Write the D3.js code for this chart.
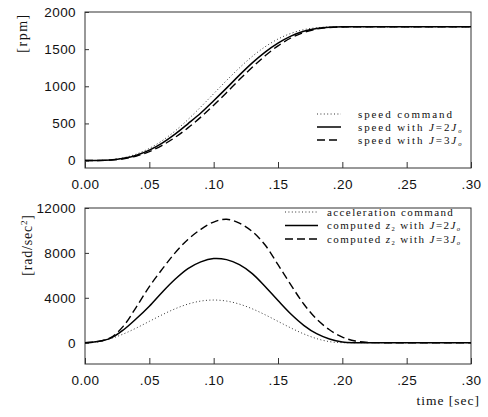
<!DOCTYPE html>
<html>
<head>
<meta charset="utf-8">
<script src="https://cdn.jsdelivr.net/npm/d3@7"></script>
<style>
    body { margin: 0; background: #fff; }
    svg { display: block; }
    .tick text { font-family: "Liberation Sans", Arial, sans-serif; font-size: 13.5px; fill: #111; letter-spacing: 0.4px; }
    .serif { font-family: "Liberation Serif", "Times New Roman", serif; fill: #111; }
</style>
</head>
<body>
<svg id="chart" width="488" height="417"></svg>
<script>
// time axis (sec)
const time = [0, .01, .02, .03, .04, .05, .06, .07, .08, .09, .10, .11, .12, .13, .14, .15,
    .16, .17, .18, .19, .20, .21, .22, .23, .24, .25, .26, .27, .28, .29, .30];

// speed [rpm]
const speedCommand = [0, 2, 12, 38, 88, 164, 268, 398, 552, 722, 900, 1078, 1248, 1402, 1532, 1636,
    1712, 1762, 1788, 1798, 1800, 1800, 1800, 1800, 1800, 1800, 1800, 1800, 1800, 1800, 1800];
const speedJ2 = [0, 1, 8, 30, 72, 140, 235, 355, 495, 640, 805, 975, 1150, 1315, 1460, 1580,
    1675, 1740, 1778, 1795, 1800, 1800, 1800, 1800, 1800, 1800, 1800, 1800, 1800, 1800, 1800];
const speedJ3 = [0, 1, 7, 25, 62, 120, 205, 312, 440, 585, 745, 915, 1090, 1255, 1410, 1545,
    1650, 1725, 1770, 1792, 1799, 1800, 1800, 1800, 1800, 1800, 1800, 1800, 1800, 1800, 1800];

// acceleration [rad/sec^2]
const accelCommand = [0, 93, 363, 783, 1313, 1900, 2487, 3017, 3437, 3707, 3800, 3707, 3437, 3017, 2487, 1900,
    1313, 783, 363, 93, 0, 0, 0, 0, 0, 0, 0, 0, 0, 0, 0];
const accelJ2 = [0, 100, 400, 1150, 2150, 3250, 4500, 5650, 6600, 7200, 7500, 7400, 6950, 6150, 5000, 3750,
    2550, 1550, 800, 330, 70, 0, 0, 0, 0, 0, 0, 0, 0, 0, 0];
const accelJ3 = [0, 100, 450, 1500, 3200, 5000, 6550, 8000, 9200, 10100, 10750, 11000, 10650, 9900, 8700, 6950,
    5150, 3450, 2100, 1150, 500, 150, 20, 0, 0, 0, 0, 0, 0, 0, 0];

const xTicks = [0, .05, .10, .15, .20, .25, .30];
const speedTicks = [0, 500, 1000, 1500, 2000];
const accelTicks = [0, 4000, 8000, 12000];

const svg = d3.select("#chart");

const styles = {
    dotted: {width: 1, dash: "1,2.4", color: "#333"},
    solid: {width: 1.5, dash: null, color: "#000"},
    dashed: {width: 1.4, dash: "8,4", color: "#000"}
};

const x = d3.scaleLinear().domain([0, 0.30]).range([85, 471]);

function fmtTime(d) {
    return d === 0 ? "0.00" : d3.format(".2f")(d).replace("0.", ".");
}

/** Draw one panel
 *
 * @param y vertical scale
 * @param ticks y tick values
 * @param series list of [values, style]
 * @param curve line interpolation
 */
function drawPanel(y, ticks, series, curve) {
    const top = y.range()[1], bottom = y.range()[0];
    const g = svg.append("g");

    g.append("g")
        .attr("transform", "translate(0," + bottom + ")")
        .call(d3.axisBottom(x).tickValues(xTicks).tickFormat(fmtTime).tickSize(-6).tickPadding(11))
        .call(function (a) { a.select(".domain").remove(); });

    g.append("g")
        .attr("transform", "translate(" + x.range()[0] + ",0)")
        .call(d3.axisLeft(y).tickValues(ticks).tickFormat(d3.format("d")).tickSize(-4).tickPadding(9))
        .call(function (a) { a.select(".domain").remove(); });

    g.selectAll(".tick line").attr("stroke", "#333");

    g.append("rect")
        .attr("x", x.range()[0])
        .attr("y", top)
        .attr("width", x.range()[1] - x.range()[0])
        .attr("height", bottom - top)
        .attr("fill", "none")
        .attr("stroke", "#333")
        .attr("stroke-width", 1);

    const line = d3.line()
        .x(function (d, i) { return x(time[i]); })
        .y(function (d) { return y(d); })
        .curve(curve);

    series.forEach(function (s) {
        g.append("path")
            .attr("d", line(s[0]))
            .attr("fill", "none")
            .attr("stroke", s[1].color)
            .attr("stroke-width", s[1].width)
            .attr("stroke-dasharray", s[1].dash);
    });
    return g;
}

/** Legend rows: sample line plus rich text */
function drawLegend(g, x0, x1, tx, rows, size, spacing) {
    rows.forEach(function (r) {
        g.append("line")
            .attr("x1", x0).attr("x2", x1)
            .attr("y1", r.y).attr("y2", r.y)
            .attr("stroke", r.style.color)
            .attr("stroke-width", r.style.width)
            .attr("stroke-dasharray", r.style.dash);
        const t = g.append("text")
            .attr("class", "serif")
            .attr("x", tx)
            .attr("y", r.y + 3.5)
            .style("font-size", size + "px")
            .style("letter-spacing", spacing + "px");
        r.parts.forEach(function (p) {
            const span = t.append("tspan").text(p.t);
            if (p.i) span.style("font-style", "italic");
            if (p.sub) span.attr("dy", 2).style("font-size", (size * 0.6) + "px");
            if (p.up) span.attr("dy", -2);
        });
    });
}

function jParts(prefix, n) {
    return prefix.concat([
        {t: "J", i: true}, {t: "=" + n}, {t: "J", i: true}, {t: "o", i: true, sub: true}
    ]);
}

function zParts(n) {
    return jParts([{t: "computed "}, {t: "z", i: true}, {t: "2", sub: true}, {t: " with ", up: true}], n);
}

// top panel: speed
const ySpeed = d3.scaleLinear().domain([-100, 2000]).range([168, 12]);
const gTop = drawPanel(ySpeed, speedTicks, [
    [speedCommand, styles.dotted],
    [speedJ2, styles.solid],
    [speedJ3, styles.dashed]
], d3.curveMonotoneX);
drawLegend(gTop, 317, 341, 358, [
    {y: 114, style: styles.dotted, parts: [{t: "speed command"}]},
    {y: 127, style: styles.solid, parts: jParts([{t: "speed with "}], 2)},
    {y: 140, style: styles.dashed, parts: jParts([{t: "speed with "}], 3)}
], 11, 1.9);

gTop.append("text")
    .attr("class", "serif")
    .attr("transform", "translate(27,33) rotate(-90)")
    .attr("text-anchor", "middle")
    .style("font-size", "14px")
    .style("letter-spacing", "1.5px")
    .text("[rpm]");

// bottom panel: acceleration
const yAccel = d3.scaleLinear().domain([-1900, 12000]).range([364, 208]);
const gBot = drawPanel(yAccel, accelTicks, [
    [accelCommand, styles.dotted],
    [accelJ2, styles.solid],
    [accelJ3, styles.dashed]
], d3.curveCatmullRom);
drawLegend(gBot, 285, 318, 327, [
    {y: 212, style: styles.dotted, parts: [{t: "acceleration command"}]},
    {y: 225.5, style: styles.solid, parts: zParts(2)},
    {y: 239, style: styles.dashed, parts: zParts(3)}
], 11, 1.4);

const yl = gBot.append("text")
    .attr("class", "serif")
    .attr("transform", "translate(32,245) rotate(-90)")
    .attr("text-anchor", "middle")
    .style("font-size", "14px")
    .style("letter-spacing", "0.8px");
yl.append("tspan").text("[rad/sec");
yl.append("tspan").text("2").attr("dy", -5).style("font-size", "9px");
yl.append("tspan").text("]").attr("dy", 5);

svg.append("text")
    .attr("class", "serif")
    .attr("x", 480)
    .attr("y", 405)
    .attr("text-anchor", "end")
    .style("font-size", "13.5px")
    .style("letter-spacing", "1px")
    .text("time [sec]");
</script>
</body>
</html>
